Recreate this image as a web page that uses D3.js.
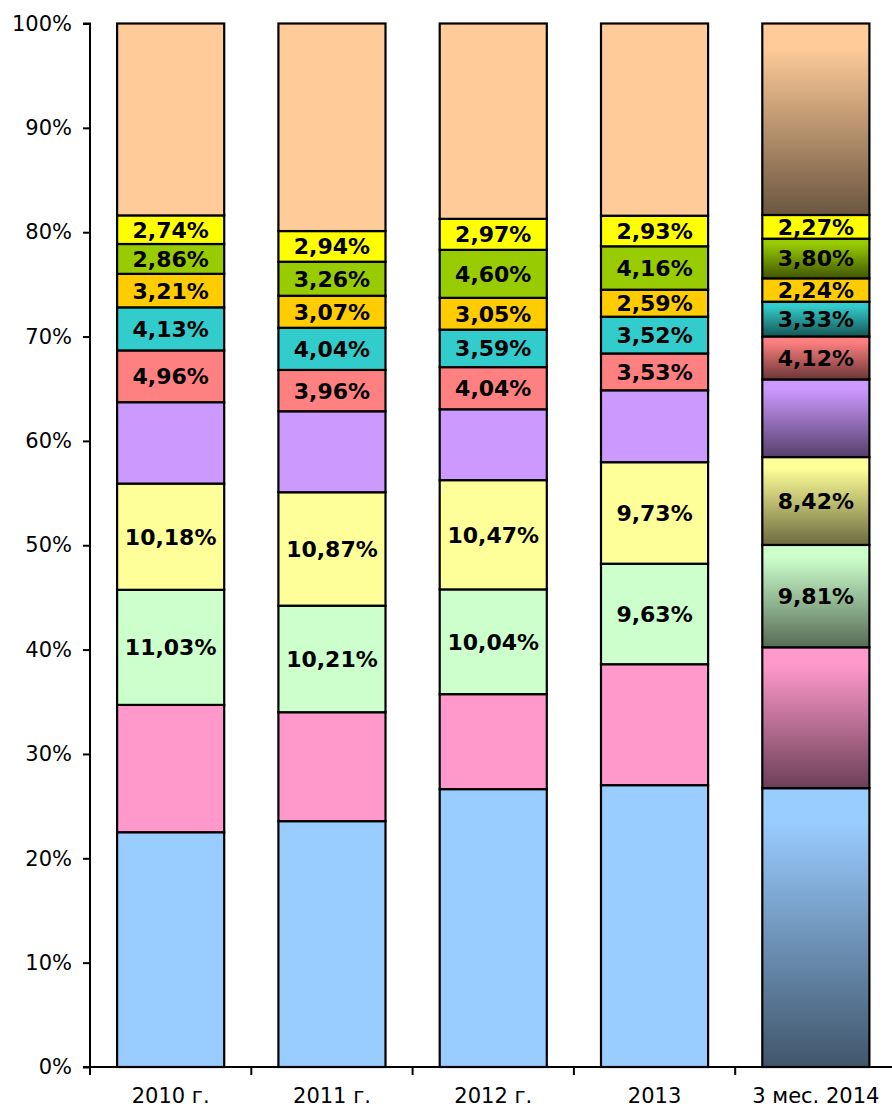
<!DOCTYPE html>
<html>
<head>
<meta charset="utf-8">
<script src="https://cdn.jsdelivr.net/npm/d3@7"></script>
<style>
  html, body { margin: 0; padding: 0; background: #ffffff; }
  svg { display: block; }
</style>
</head>
<body>
<svg id="chart" width="892" height="1108"></svg>
<script>
// ---- data ----
const categories = ["2010 г.", "2011 г.", "2012 г.", "2013", "3 мес. 2014"];
const seriesNames = ["s1", "s2", "s3", "s4", "s5", "s6", "s7", "s8", "s9", "s10", "s11"];
const s1  = [22.50, 23.56, 26.63, 27.01, 26.72];
const s2  = [12.20, 10.44,  9.10, 11.59, 13.50];
const s3  = [11.03, 10.21, 10.04,  9.63,  9.81];
const s4  = [10.18, 10.87, 10.47,  9.73,  8.42];
const s5  = [ 7.80,  7.76,  6.79,  6.89,  7.44];
const s6  = [ 4.96,  3.96,  4.04,  3.53,  4.12];
const s7  = [ 4.13,  4.04,  3.59,  3.52,  3.33];
const s8  = [ 3.21,  3.07,  3.05,  2.59,  2.24];
const s9  = [ 2.86,  3.26,  4.60,  4.16,  3.80];
const s10 = [ 2.74,  2.94,  2.97,  2.93,  2.27];
const s11 = [18.39, 19.89, 18.72, 18.42, 18.35];
const seriesValues = [s1, s2, s3, s4, s5, s6, s7, s8, s9, s10, s11];
const seriesColors = ["#99ccff", "#ff99cc", "#ccffcc", "#ffff99", "#cc99ff", "#ff8080",
                      "#33cccc", "#ffcc00", "#99cc00", "#ffff00", "#ffcc99"];
const labeledSeries = ["s3", "s4", "s6", "s7", "s8", "s9", "s10"];
const gradientCategory = "3 мес. 2014";
const gradientSeries = ["s1", "s2", "s3", "s4", "s5", "s6", "s7", "s9", "s11"];
const yTicks = [0, 10, 20, 30, 40, 50, 60, 70, 80, 90, 100];

// ---- build table ----
const table = categories.map((c, i) => {
  const row = { cat: c };
  seriesNames.forEach((s, k) => { row[s] = seriesValues[k][i]; });
  return row;
});

const svg = d3.select("#chart");
const x = d3.scaleBand().domain(categories).range([90, 896.5])
  .paddingInner(0.336).paddingOuter(0.168);
const y = d3.scaleLinear().domain([0, 100]).range([1067, 23.5]);

// gradients
const defs = svg.append("defs");
seriesNames.forEach((s, k) => {
  const base = d3.rgb(seriesColors[k]);
  const dark = d3.rgb(base.r * 0.42, base.g * 0.42, base.b * 0.42);
  const g = defs.append("linearGradient").attr("id", "grad-" + s)
    .attr("x1", 0).attr("y1", 0).attr("x2", 0).attr("y2", 1);
  g.append("stop").attr("offset", "0%").attr("stop-color", base.formatHex());
  g.append("stop").attr("offset", "12%").attr("stop-color", base.formatHex());
  g.append("stop").attr("offset", "100%").attr("stop-color", dark.formatHex());
});

const stack = d3.stack().keys(seriesNames);
const stacked = stack(table);

const fmt = d3.formatLocale({ decimal: ",", thousands: " ", grouping: [3], currency: ["", ""] }).format(".2f");

const layers = svg.append("g").selectAll("g.layer").data(stacked).join("g").attr("class", "layer");
layers.each(function (layer, k) {
  const g = d3.select(this);
  g.selectAll("rect").data(layer).join("rect")
    .attr("x", d => x(d.data.cat))
    .attr("width", x.bandwidth())
    .attr("y", d => y(d[1]))
    .attr("height", d => y(d[0]) - y(d[1]))
    .attr("fill", d => (d.data.cat === gradientCategory && gradientSeries.includes(layer.key))
      ? "url(#grad-" + layer.key + ")" : seriesColors[k])
    .attr("stroke", "#000")
    .attr("stroke-width", 2.2);
});

// labels
layers.each(function (layer) {
  if (!labeledSeries.includes(layer.key)) return;
  d3.select(this).selectAll("text").data(layer).join("text")
    .attr("x", d => x(d.data.cat) + x.bandwidth() / 2)
    .attr("y", d => (y(d[0]) + y(d[1])) / 2)
    .attr("dy", "0.36em")
    .attr("text-anchor", "middle")
    .attr("font-family", "DejaVu Sans, Verdana, sans-serif")
    .attr("font-weight", "bold")
    .attr("font-size", 22)
    .attr("fill", "#000")
    .text(d => fmt(d.data[layer.key]) + "%");
});

// y axis
const yAxis = d3.axisLeft(y).tickValues(yTicks).tickFormat(d => d + "%").tickSize(7).tickPadding(11);
const gy = svg.append("g").attr("transform", "translate(90,0)").call(yAxis);
gy.select(".domain").attr("stroke", "#000").attr("stroke-width", 2).attr("d", "M-7," + y(100) + "H0V" + y(0));
gy.selectAll(".tick line").attr("stroke", "#000").attr("stroke-width", 2);
gy.selectAll(".tick text").attr("font-family", "DejaVu Sans, Verdana, sans-serif").attr("font-size", 21).attr("fill", "#000");

// x axis
const gx = svg.append("g").attr("transform", "translate(0," + y(0) + ")");
gx.append("line").attr("x1", 83).attr("x2", 896.5).attr("y1", 0).attr("y2", 0)
  .attr("stroke", "#000").attr("stroke-width", 2);
const step = x.step();
const boundaries = d3.range(categories.length + 1).map(i => 90 + i * step);
gx.selectAll("line.xt").data(boundaries).join("line").attr("class", "xt")
  .attr("x1", d => d).attr("x2", d => d).attr("y1", 0).attr("y2", 8)
  .attr("stroke", "#000").attr("stroke-width", 2);
gx.selectAll("text").data(categories).join("text")
  .attr("x", d => x(d) + x.bandwidth() / 2)
  .attr("y", 36)
  .attr("text-anchor", "middle")
  .attr("font-family", "DejaVu Sans, Verdana, sans-serif")
  .attr("font-size", 21)
  .attr("fill", "#000")
  .text(d => d);
</script>
</body>
</html>
